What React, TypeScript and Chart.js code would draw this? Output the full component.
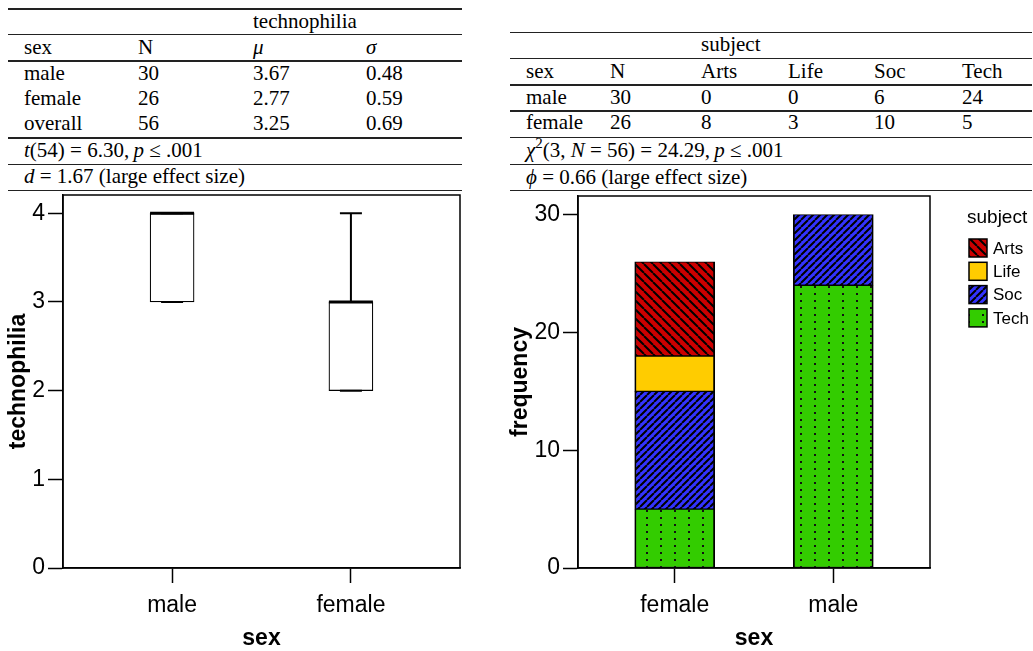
import React, { useEffect, useRef } from 'react';
import { Chart, registerables } from 'chart.js';

Chart.register(...registerables);
Chart.defaults.font.family = '"Liberation Sans", Arial, sans-serif';
Chart.defaults.color = '#000';

// ---------- data: left table / box plot ----------
const techRowLabels = ['male', 'female', 'overall'];
const techN = ['30', '26', '56'];
const techMean = ['3.67', '2.77', '3.25'];
const techSd = ['0.48', '0.59', '0.69'];

const boxCategories = ['male', 'female'];
const boxMin = [3, 2];
const boxQ1 = [3, 2];
const boxMedian = [4, 3];
const boxQ3 = [4, 3];
const boxMax = [4, 4];
const techTicks = [0, 1, 2, 3, 4];

// ---------- data: right table / stacked bars ----------
const barCategories = ['female', 'male'];
const subjectNames = ['Arts', 'Life', 'Soc', 'Tech'];
const artsCounts = [8, 0];
const lifeCounts = [3, 0];
const socCounts = [10, 6];
const techCounts = [5, 24];
const freqTicks = [0, 10, 20, 30];
const subjTableOrder = ['male', 'female'];

const SERIF = '"Liberation Serif", "Times New Roman", serif';
const SANS = '"Liberation Sans", Arial, sans-serif';

function Txt({ x, cy, children }: { x: number; cy: number; children: any }) {
  return (
    <div
      style={{
        position: 'absolute',
        left: x,
        top: cy - 13,
        fontFamily: SERIF,
        fontSize: 21,
        lineHeight: '24px',
        whiteSpace: 'nowrap',
        color: '#000',
      }}
    >
      {children}
    </div>
  );
}

function Rule({ x1, x2, y }: { x1: number; x2: number; y: number }) {
  return (
    <div
      style={{
        position: 'absolute',
        left: x1,
        top: y - 0.75,
        width: x2 - x1,
        height: 1.5,
        background: '#222',
      }}
    />
  );
}

const gridOpts = {
  display: true,
  drawOnChartArea: false,
  drawTicks: true,
  offset: false,
  tickLength: 15,
  tickWidth: 1.5,
  tickColor: '#000',
};
const borderOpts = { display: true, color: '#000', width: 1.5 };

const framePlugin = {
  id: 'frame',
  afterDraw(chart: any) {
    const { ctx, chartArea: a } = chart;
    ctx.save();
    ctx.strokeStyle = '#000';
    ctx.lineWidth = 1.5;
    ctx.strokeRect(a.left, a.top, a.right - a.left, a.bottom - a.top);
    ctx.restore();
  },
};

const whiskerPlugin = {
  id: 'whiskers',
  afterDatasetsDraw(chart: any) {
    const { ctx } = chart;
    const xs = chart.scales.x;
    const ys = chart.scales.y;
    ctx.save();
    ctx.strokeStyle = '#000';
    boxCategories.forEach((_, i) => {
      const cx = xs.getPixelForValue(i);
      const yMax = ys.getPixelForValue(boxMax[i]);
      const yQ3 = ys.getPixelForValue(boxQ3[i]);
      const yQ1 = ys.getPixelForValue(boxQ1[i]);
      const yMin = ys.getPixelForValue(boxMin[i]);
      const yMed = ys.getPixelForValue(boxMedian[i]);
      ctx.lineWidth = 2;
      ctx.beginPath();
      ctx.moveTo(cx, yQ3);
      ctx.lineTo(cx, yMax);
      ctx.moveTo(cx - 11, yMax);
      ctx.lineTo(cx + 11, yMax);
      ctx.moveTo(cx, yQ1);
      ctx.lineTo(cx, yMin);
      ctx.moveTo(cx - 11, yMin);
      ctx.lineTo(cx + 11, yMin);
      ctx.stroke();
      ctx.lineWidth = 3;
      ctx.beginPath();
      ctx.moveTo(cx - 22, yMed);
      ctx.lineTo(cx + 22, yMed);
      ctx.stroke();
    });
    ctx.restore();
  },
};

const legendPlugin = {
  id: 'customLegend',
  afterDraw(chart: any) {
    const { ctx, chartArea: a } = chart;
    const x0 = a.right + 37;
    ctx.save();
    ctx.fillStyle = '#000';
    ctx.textAlign = 'left';
    ctx.textBaseline = 'middle';
    ctx.font = `19px ${SANS}`;
    ctx.fillText('subject', x0, 26);
    const items = chart.data.datasets.slice().reverse();
    items.forEach((ds: any, i: number) => {
      const y = 47 + i * 23.3;
      ctx.fillStyle = ds.backgroundColor;
      ctx.fillRect(x0 + 2, y, 18, 18);
      ctx.strokeStyle = '#000';
      ctx.lineWidth = 1.5;
      ctx.strokeRect(x0 + 2, y, 18, 18);
      ctx.fillStyle = '#000';
      ctx.font = `17px ${SANS}`;
      ctx.fillText(ds.label, x0 + 26, y + 10);
    });
    ctx.restore();
  },
};

function hatch(ctx: CanvasRenderingContext2D, bg: string, dir: 'down' | 'up', p: number) {
  const c = document.createElement('canvas');
  c.width = p;
  c.height = p;
  const g = c.getContext('2d')!;
  g.fillStyle = bg;
  g.fillRect(0, 0, p, p);
  g.strokeStyle = '#000';
  g.lineWidth = 2;
  g.beginPath();
  for (let k = -1; k <= 1; k++) {
    if (dir === 'down') {
      g.moveTo(k * p, 0);
      g.lineTo(k * p + p, p);
    } else {
      g.moveTo(k * p, p);
      g.lineTo(k * p + p, 0);
    }
  }
  g.stroke();
  return ctx.createPattern(c, 'repeat')!;
}

function dots(ctx: CanvasRenderingContext2D, bg: string) {
  const c = document.createElement('canvas');
  c.width = 14;
  c.height = 7;
  const g = c.getContext('2d')!;
  g.fillStyle = bg;
  g.fillRect(0, 0, 14, 7);
  g.fillStyle = '#111';
  g.fillRect(6, 3, 2, 2);
  return ctx.createPattern(c, 'repeat')!;
}

function xScaleOpts(cats: string[]) {
  return {
    type: 'linear',
    offset: false,
    min: -0.61,
    max: 1.61,
    afterBuildTicks: (s: any) => {
      s.ticks = cats.map((_, i) => ({ value: i }));
    },
    afterFit: (s: any) => {
      s.height = 83;
      s.paddingLeft = 0;
      s.paddingRight = 0;
    },
    ticks: {
      callback: (v: any) => cats[v] ?? '',
      font: { size: 23 },
      color: '#000',
      padding: 9,
      maxRotation: 0,
      autoSkip: false,
    },
    grid: gridOpts,
    border: borderOpts,
    title: {
      display: true,
      text: 'sex',
      font: { size: 23, weight: 'bold', lineHeight: 1 },
      color: '#000',
      padding: { top: 0, bottom: 1 },
    },
  };
}

function yScaleOpts(max: number, ticks: number[], width: number, title: string, tpad: number) {
  return {
    type: 'linear',
    min: 0,
    max,
    afterBuildTicks: (s: any) => {
      s.ticks = ticks.map((v) => ({ value: v }));
    },
    afterFit: (s: any) => {
      s.width = width;
      s.paddingTop = 0;
      s.paddingBottom = 0;
    },
    ticks: { font: { size: 23 }, color: '#000', padding: 3 },
    grid: gridOpts,
    border: borderOpts,
    title: {
      display: true,
      text: title,
      font: { size: 23, weight: 'bold', lineHeight: 1 },
      color: '#000',
      padding: { top: tpad, bottom: 0 },
    },
  };
}

function BoxChart() {
  const ref = useRef<HTMLCanvasElement>(null);
  useEffect(() => {
    const chart = new Chart(ref.current!, {
      type: 'bar',
      data: {
        datasets: [
          {
            label: 'technophilia',
            data: boxCategories.map((_, i) => ({ x: i, y: [boxQ1[i], boxQ3[i]] })) as any,
            backgroundColor: '#fff',
            borderColor: '#000',
            borderWidth: 1.2,
            borderSkipped: false,
            barThickness: 44,
          },
        ],
      },
      options: {
        responsive: false,
        animation: false,
        events: [],
        layout: { padding: { top: 3, right: 10, left: 0, bottom: 0 } },
        plugins: { legend: { display: false }, tooltip: { enabled: false } },
        scales: {
          x: xScaleOpts(boxCategories),
          y: yScaleOpts(4.206, techTicks, 63, 'technophilia', 7.5),
        },
      } as any,
      plugins: [framePlugin, whiskerPlugin],
    });
    return () => chart.destroy();
  }, []);
  return (
    <canvas
      ref={ref}
      width={470}
      height={459}
      style={{ position: 'absolute', left: 0, top: 192, width: 470, height: 459 }}
    />
  );
}

function StackChart() {
  const ref = useRef<HTMLCanvasElement>(null);
  useEffect(() => {
    const canvas = ref.current!;
    const ctx = canvas.getContext('2d')!;
    const artsFill = hatch(ctx, '#CC0000', 'down', 9);
    const lifeFill = '#FFCC00';
    const socFill = hatch(ctx, '#3333FF', 'up', 7);
    const techFill = dots(ctx, '#33CC00');
    const series = [
      { label: subjectNames[3], values: techCounts, fill: techFill },
      { label: subjectNames[2], values: socCounts, fill: socFill },
      { label: subjectNames[1], values: lifeCounts, fill: lifeFill },
      { label: subjectNames[0], values: artsCounts, fill: artsFill },
    ];
    const xOpts: any = xScaleOpts(barCategories);
    xOpts.stacked = true;
    const yOpts: any = yScaleOpts(31.58, freqTicks, 78, 'frequency', 9);
    yOpts.stacked = true;
    const chart = new Chart(canvas, {
      type: 'bar',
      data: {
        datasets: series.map((s) => ({
          label: s.label,
          data: barCategories.map((_, i) => ({ x: i, y: s.values[i] === 0 ? null : s.values[i] })) as any,
          backgroundColor: s.fill as any,
          borderColor: '#000',
          borderWidth: { left: 1.8, right: 1.8, top: 1, bottom: 1 },
          borderSkipped: false,
          barThickness: 80,
        })),
      },
      options: {
        responsive: false,
        animation: false,
        events: [],
        layout: { padding: { top: 4, right: 103, left: 0, bottom: 0 } },
        plugins: { legend: { display: false }, tooltip: { enabled: false } },
        scales: { x: xOpts, y: yOpts },
      } as any,
      plugins: [framePlugin, legendPlugin],
    });
    return () => chart.destroy();
  }, []);
  return (
    <canvas
      ref={ref}
      width={533}
      height={459}
      style={{ position: 'absolute', left: 500, top: 192, width: 533, height: 459 }}
    />
  );
}

function LeftTable() {
  const cols = [24, 138, 253, 366];
  const rowY = [74, 99.3, 124];
  const rules = [9, 34.3, 61, 138, 164.3, 190.7];
  return (
    <>
      {rules.map((y, i) => (
        <Rule key={i} x1={8} x2={462} y={y} />
      ))}
      <Txt x={cols[2]} cy={21.7}>technophilia</Txt>
      <Txt x={cols[0]} cy={48.3}>sex</Txt>
      <Txt x={cols[1]} cy={48.3}>N</Txt>
      <Txt x={cols[2]} cy={48.3}><i>μ</i></Txt>
      <Txt x={cols[3]} cy={48.3}><i>σ</i></Txt>
      {techRowLabels.map((lab, i) => (
        <React.Fragment key={lab}>
          <Txt x={cols[0]} cy={rowY[i]}>{lab}</Txt>
          <Txt x={cols[1]} cy={rowY[i]}>{techN[i]}</Txt>
          <Txt x={cols[2]} cy={rowY[i]}>{techMean[i]}</Txt>
          <Txt x={cols[3]} cy={rowY[i]}>{techSd[i]}</Txt>
        </React.Fragment>
      ))}
      <Txt x={cols[0]} cy={150.7}>
        <i>t</i>(54) = 6.30,{'\u2009'}<i>p</i> ≤ .001
      </Txt>
      <Txt x={cols[0]} cy={177.3}>
        <i>d</i> = 1.67 (large effect size)
      </Txt>
    </>
  );
}

function RightTable() {
  const cols = [526, 610, 701, 788, 874, 962];
  const rowY = [97.7, 123.3];
  const rules = [32.3, 58.3, 85, 111, 137.7, 164.3, 190.7];
  const countLists = [artsCounts, lifeCounts, socCounts, techCounts];
  return (
    <>
      {rules.map((y, i) => (
        <Rule key={i} x1={510} x2={1032} y={y} />
      ))}
      <Txt x={cols[2]} cy={45}>subject</Txt>
      <Txt x={cols[0]} cy={71.7}>sex</Txt>
      <Txt x={cols[1]} cy={71.7}>N</Txt>
      {subjectNames.map((s, j) => (
        <Txt key={s} x={cols[2 + j]} cy={71.7}>{s}</Txt>
      ))}
      {subjTableOrder.map((lab, r) => {
        const idx = barCategories.indexOf(lab);
        const n = countLists.reduce((acc, l) => acc + l[idx], 0);
        return (
          <React.Fragment key={lab}>
            <Txt x={cols[0]} cy={rowY[r]}>{lab}</Txt>
            <Txt x={cols[1]} cy={rowY[r]}>{n}</Txt>
            {countLists.map((l, j) => (
              <Txt key={j} x={cols[2 + j]} cy={rowY[r]}>{l[idx]}</Txt>
            ))}
          </React.Fragment>
        );
      })}
      <Txt x={cols[0]} cy={151}>
        <i>χ</i>
        <span style={{ fontSize: 15, position: 'relative', top: -9 }}>2</span>
        (3, <i>N</i> = 56) = 24.29,{'\u2009'}<i>p</i> ≤ .001
      </Txt>
      <Txt x={cols[0]} cy={177.7}>
        <i>ϕ</i> = 0.66 (large effect size)
      </Txt>
    </>
  );
}

export default function App() {
  return (
    <div
      style={{
        position: 'absolute',
        left: 0,
        top: 0,
        width: 1033,
        height: 651,
        background: '#fff',
        overflow: 'hidden',
      }}
    >
      <LeftTable />
      <RightTable />
      <BoxChart />
      <StackChart />
    </div>
  );
}
